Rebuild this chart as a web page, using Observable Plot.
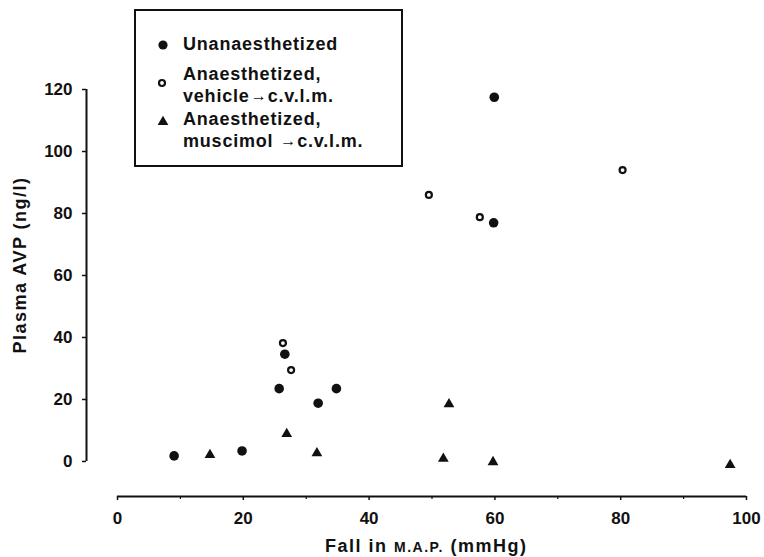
<!DOCTYPE html>
<html><head><meta charset="utf-8">
<script src="https://cdn.jsdelivr.net/npm/d3@7"></script>
<script src="https://cdn.jsdelivr.net/npm/@observablehq/plot@0.6"></script>
<style>body{margin:0;background:#fff} svg{display:block}</style>
</head><body><div id="chart"></div>
<script>
// Unanaesthetized (filled circles)
const unanX = [9, 19.8, 25.7, 26.6, 31.9, 34.8, 59.9, 59.8];
const unanY = [1.8, 3.4, 23.5, 34.6, 18.8, 23.5, 117.5, 77];
// Anaesthetized, vehicle -> c.v.l.m. (open circles)
const vehX = [26.3, 27.6, 49.5, 57.6, 80.3];
const vehY = [38.2, 29.5, 86, 78.8, 94];
// Anaesthetized, muscimol -> c.v.l.m. (triangles)
const musX = [14.7, 26.9, 31.7, 52.7, 51.8, 59.7, 97.4];
const musY = [2.1, 8.9, 2.7, 18.5, 0.9, -0.2, -1.1];

const xTicks = [0, 20, 40, 60, 80, 100];
const xMinorTicks = [10, 30, 50, 70, 90];
const yTicks = [0, 20, 40, 60, 80, 100, 120];
const xDomain = [-4.93, 100];
const yDomain = [-11.3, 120];

const xLabelParts = ["Fall in ", "M.A.P.", " (mmHg)"];
const yLabel = "Plasma AVP (ng/l)";
const legendSeries = [
  {symbol: "filled", lines: [["Unanaesthetized"]]},
  {symbol: "open", lines: [["Anaesthetized,"], ["vehicle", "→", "c.v.l.m."]]},
  {symbol: "triangle", lines: [["Anaesthetized,"], ["muscimol ", "→", "c.v.l.m."]]}
];

const toRows = (xs, ys) => xs.map((x, i) => ({x, y: ys[i]}));
const unan = toRows(unanX, unanY);
const veh = toRows(vehX, vehY);
const mus = toRows(musX, musY);

const ink = "#111";
const font = "'Liberation Sans', Arial, Helvetica, sans-serif";

const chart = Plot.plot({
  width: 764, height: 557,
  marginLeft: 86, marginRight: 18, marginTop: 89, marginBottom: 61,
  x: {domain: xDomain},
  y: {domain: yDomain},
  style: {fontFamily: font, fontSize: "17px", fontWeight: "bold", color: ink, background: "#fff"},
  marks: [
    Plot.ruleY([yDomain[0]], {x1: () => xTicks[0], x2: () => xTicks[xTicks.length - 1], strokeWidth: 2, stroke: ink}),
    Plot.ruleX([xDomain[0]], {y1: () => yTicks[0], y2: () => yTicks[yTicks.length - 1], strokeWidth: 2, stroke: ink}),
    Plot.axisX({ticks: xTicks, tickSize: 4, tickPadding: 11, label: null, strokeWidth: 1.5}),
    Plot.axisX({ticks: xMinorTicks, tickSize: 3, tickFormat: () => "", label: null, strokeWidth: 1.2}),
    Plot.axisY({ticks: yTicks, tickSize: 4, tickPadding: 10, label: null, strokeWidth: 1.5}),
    Plot.dot(unan, {x: "x", y: "y", r: 4.8, fill: ink, stroke: "none"}),
    Plot.dot(veh, {x: "x", y: "y", r: 3, fill: "#fff", stroke: ink, strokeWidth: 2.2}),
    Plot.dot(mus, {x: "x", y: "y", r: 4, symbol: "triangle", fill: ink, stroke: "none"})
  ]
});
document.getElementById("chart").appendChild(chart);

const svg = d3.select(chart);

// Axis titles
const xl = svg.append("text")
  .attr("x", 325).attr("y", 552).attr("text-anchor", "start")
  .attr("font-family", font).attr("font-size", 18).attr("font-weight", "bold")
  .attr("letter-spacing", "1.5px").attr("fill", ink);
xl.append("tspan").text(xLabelParts[0]);
xl.append("tspan").attr("font-size", 14).text(xLabelParts[1]);
xl.append("tspan").text(xLabelParts[2]);

svg.append("text")
  .attr("transform", "translate(26,265) rotate(-90)")
  .attr("text-anchor", "middle")
  .attr("font-family", font).attr("font-size", 18).attr("font-weight", "bold")
  .attr("letter-spacing", "1.5px").attr("fill", ink)
  .text(yLabel);

// Legend
const lg = svg.append("g")
  .attr("font-family", font).attr("font-size", 18).attr("font-weight", "bold")
  .attr("text-anchor", "start")
  .attr("letter-spacing", "0.8px").attr("fill", ink);
lg.append("rect").attr("x", 135).attr("y", 10).attr("width", 267).attr("height", 156)
  .attr("fill", "#fff").attr("stroke", ink).attr("stroke-width", 2);

const symbolY = [45, 83, 121];
const lineBaselines = [[50], [80, 102], [125, 147]];
legendSeries.forEach((s, i) => {
  const cx = 163, cy = symbolY[i];
  if (s.symbol === "filled") {
    lg.append("circle").attr("cx", cx).attr("cy", cy).attr("r", 4.6).attr("fill", ink);
  } else if (s.symbol === "open") {
    lg.append("circle").attr("cx", cx - 1).attr("cy", cy).attr("r", 3).attr("fill", "#fff")
      .attr("stroke", ink).attr("stroke-width", 2.2);
  } else {
    lg.append("path").attr("d", d3.symbol(d3.symbolTriangle, 50)())
      .attr("transform", `translate(${cx},${cy + 1})`).attr("fill", ink);
  }
  s.lines.forEach((parts, j) => {
    const t = lg.append("text").attr("x", 183).attr("y", lineBaselines[i][j]).attr("text-anchor", "start");
    let afterArrow = false;
    parts.forEach((p) => {
      if (p === "→") {
        t.append("tspan").attr("font-size", 16).attr("font-weight", "normal").attr("letter-spacing", "0px")
          .attr("dx", 1).attr("dy", -1).text(p);
        afterArrow = true;
      } else {
        const ts = t.append("tspan").text(p);
        if (afterArrow) { ts.attr("dx", 1).attr("dy", 1); afterArrow = false; }
      }
    });
  });
});
</script>
</body></html>
